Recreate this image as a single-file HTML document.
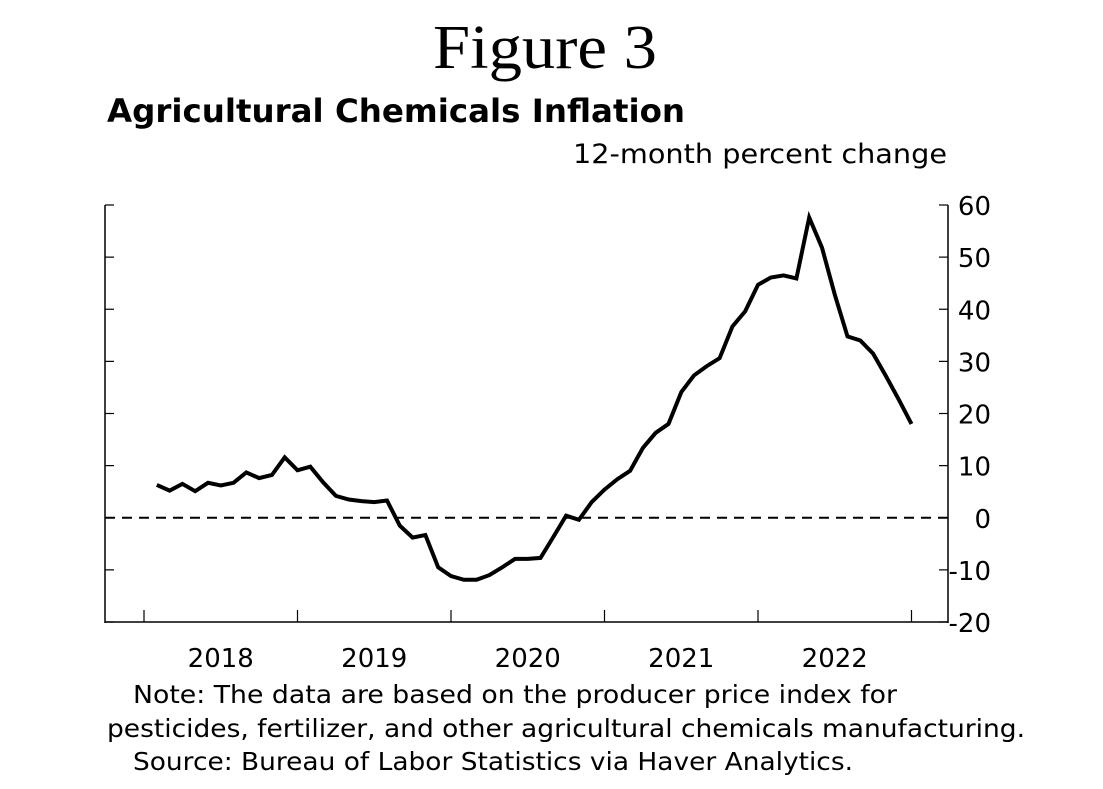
<!DOCTYPE html>
<html><head><meta charset="utf-8"><style>
body{margin:0;background:#fff;}
svg{display:block;}
</style></head><body>
<svg id="chart" width="1103" height="789" viewBox="0 0 1103 789" xmlns="http://www.w3.org/2000/svg">
<text x="433" y="68" textLength="224" lengthAdjust="spacingAndGlyphs" font-family="Liberation Serif, serif" font-size="62">Figure 3</text>
<text x="107" y="122" textLength="578" lengthAdjust="spacingAndGlyphs" font-family="DejaVu Sans, sans-serif" font-weight="bold" font-size="32">Agricultural Chemicals Inflation</text>
<text x="573" y="163" textLength="374" lengthAdjust="spacingAndGlyphs" font-family="DejaVu Sans, sans-serif" font-size="27">12-month percent change</text>
<g id="axes"></g>
<g id="series"></g>
<text x="133" y="703" textLength="764" lengthAdjust="spacingAndGlyphs" font-family="DejaVu Sans, sans-serif" font-size="25">Note:  The data are based on the producer price index for</text>
<text x="107" y="737" textLength="918" lengthAdjust="spacingAndGlyphs" font-family="DejaVu Sans, sans-serif" font-size="25">pesticides, fertilizer, and other agricultural chemicals manufacturing.</text>
<text x="133" y="770" textLength="720" lengthAdjust="spacingAndGlyphs" font-family="DejaVu Sans, sans-serif" font-size="25">Source:  Bureau of Labor Statistics via Haver Analytics.</text>
</svg>
<script>
const yTicks=[60,50,40,30,20,10,0,-10,-20];
const yearLabels=["2018","2019","2020","2021","2022"];
const startMonthIndex=1; // Feb 2018
const values=[6.3,5.2,6.5,5.1,6.7,6.2,6.7,8.7,7.6,8.2,11.6,9.1,9.8,6.8,4.2,3.5,3.2,3.0,3.3,-1.5,-3.8,-3.3,-9.5,-11.2,-11.9,-11.9,-11.0,-9.5,-7.9,-7.9,-7.7,-3.7,0.4,-0.4,3.0,5.4,7.4,9.0,13.4,16.3,18.0,24.1,27.3,29.1,30.6,36.7,39.6,44.7,46.1,46.5,45.9,57.6,51.8,42.8,34.8,34.0,31.5,27.2,22.7,18.0];
const NS="http://www.w3.org/2000/svg";
const L=105,R=948,T=205,B=622,X0=144,YW=153.5;
const yMin=-20,yMax=60;
function y(v){return B-(v-yMin)/(yMax-yMin)*(B-T);}
function x(m){return X0+m*YW/12;}
function mk(t,a,p){const e=document.createElementNS(NS,t);for(const k in a)e.setAttribute(k,a[k]);p.appendChild(e);return e;}
const ax=document.getElementById('axes');
let e;
e=mk('line',{x1:L,y1:T,x2:L,y2:B+1,stroke:'#000','stroke-width':1.5},ax);


e=mk('line',{x1:R,y1:T,x2:R,y2:B+1,stroke:'#000','stroke-width':1.5},ax);


e=mk('line',{x1:L,y1:B,x2:R,y2:B,stroke:'#000','stroke-width':1.5},ax);


yTicks.forEach(v=>{
  e=mk('line',{x1:L,y1:y(v),x2:L+9,y2:y(v),stroke:'#000','stroke-width':1.2},ax);
  
  
  e=mk('line',{x1:R-9,y1:y(v),x2:R,y2:y(v),stroke:'#000','stroke-width':1.2},ax);
  
  
  e=mk('text',{x:991,y:y(v)+10,'text-anchor':'end','font-family':'DejaVu Sans, sans-serif','font-size':26},ax);
  e.textContent=v;
  
  
});
for(let i=0;i<=yearLabels.length;i++){
  e=mk('line',{x1:x(i*12),y1:B,x2:x(i*12),y2:B-12,stroke:'#000','stroke-width':1.2},ax);
  
  
}
yearLabels.forEach((lab,i)=>{
  e=mk('text',{x:x(i*12+6),y:667,'text-anchor':'middle','font-family':'DejaVu Sans, sans-serif','font-size':26},ax);
  e.textContent=lab;
  
  
});
e=mk('line',{x1:L,y1:y(0),x2:R,y2:y(0),stroke:'#000','stroke-width':2,'stroke-dasharray':'10,7'},ax);


const s=document.getElementById('series');
const pts=values.map((v,i)=>x(startMonthIndex+i).toFixed(1)+','+y(v).toFixed(1)).join(' ');
e=mk('polyline',{points:pts,fill:'none',stroke:'#000','stroke-width':4,'stroke-linejoin':'miter'},s);


</script>
</body></html>
